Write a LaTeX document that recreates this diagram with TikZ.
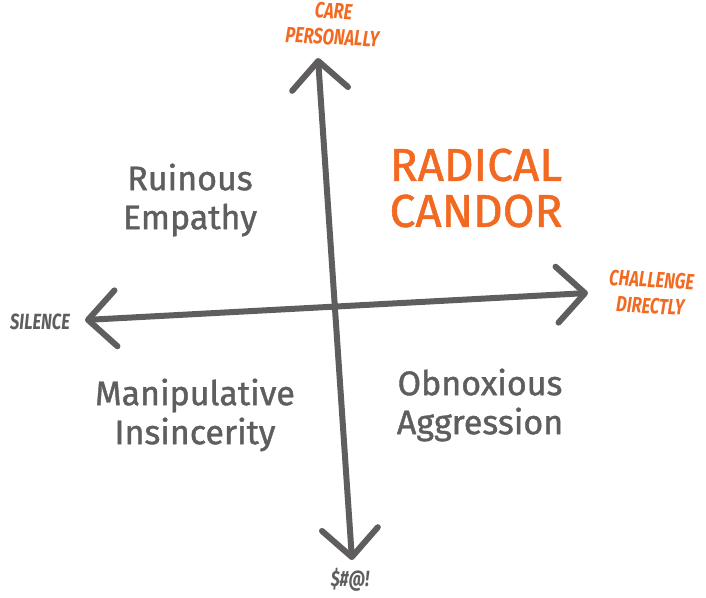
\documentclass[tikz,border=0pt]{standalone}
\usepackage{fontspec}
\setmainfont{Fira Sans}
\newfontfamily\polefont[FakeStretch=0.75]{Fira Sans}
\newfontfamily\markerfont[FakeBold=1.2]{Fira Sans}
\usepackage{xcolor}
\usetikzlibrary{arrows.meta}
\definecolor{candor}{HTML}{F26A21}
\definecolor{pencil}{HTML}{5F5D5E}

\begin{document}
\begin{tikzpicture}[
  x=1pt, y=-1pt,
  axis/.style={draw=pencil, line width=6pt, line cap=round, line join=round,
    {Straight Barb[length=28pt,width=56pt,round]}-{Straight Barb[length=28pt,width=56pt,round]}},
  pole/.style={font=\polefont\fontsize{22}{26}\selectfont\bfseries\itshape, align=center, inner sep=0pt},
  quad/.style={text=pencil, font=\markerfont\fontsize{34}{39}\selectfont, align=center, inner sep=0pt}
]
\useasboundingbox (0,0) rectangle (706,597);
\coordinate (top) at (318,58);
\coordinate (bottom) at (352,560);
\coordinate (west) at (85,320);
\coordinate (east) at (588,293);

\draw[axis] (bottom) -- (top);
\draw[axis] (west) -- (east);

\node[pole, text=candor, rotate=-3] (care) at (333,24) {CARE\\PERSONALLY};
\node[pole, text=pencil] (silence) at (40,322) {SILENCE};
\node[pole, text=candor, rotate=-3] (challenge) at (651,293) {CHALLENGE\\DIRECTLY};
\node[pole, text=pencil] (curse) at (350,580) {\$\#@!};

\node[text=candor, font=\markerfont\fontsize{46}{46}\selectfont, align=center, inner sep=0pt] (radical) at (476,188) {RADICAL\\CANDOR};
\node[quad] (ruinous) at (190,200) {Ruinous\\Empathy};
\node[quad] (manipulative) at (195,415) {Manipulative\\Insincerity};
\node[quad] (obnoxious) at (480,405) {Obnoxious\\Aggression};
\end{tikzpicture}
\end{document}
